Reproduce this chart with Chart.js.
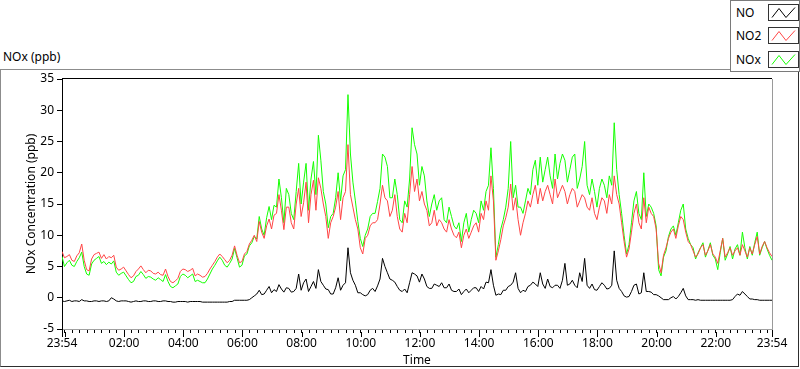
<!DOCTYPE html>
<html>
<head>
<meta charset="utf-8">
<script src="https://cdn.jsdelivr.net/npm/chart.js@4.4.1/dist/chart.umd.min.js"></script>
<style>
  html, body { margin: 0; padding: 0; background: #fff; }
  body { width: 800px; height: 369px; position: relative; overflow: hidden;
         font-family: "Noto Sans", sans-serif; font-size: 12px; color: #000; }
  #marco { position: absolute; left: 0; top: 69px; width: 797px; height: 296px;
           border-top: 1px solid #8c8c8c; border-left: 1px solid #8c8c8c;
           border-right: 1px solid #2e2e2e; border-bottom: 1px solid #2e2e2e; }
  #titulo { position: absolute; left: 3px; top: 49px; line-height: 16px; }
  #leyenda { position: absolute; left: 730px; top: 0; width: 68px; height: 70px;
             background: #fff; border: 1px solid #7a7a7a; }
  .fila { position: absolute; left: 0; width: 68px; height: 17px; }
  .fila span { position: absolute; left: 5px; top: 0; line-height: 17px; }
  .fila canvas { position: absolute; left: 37px; top: 0; border: 1px solid #333; }
  #grafico { position: absolute; left: 0; top: 0; }
</style>
</head>
<body>
<div id="marco"></div>
<div id="titulo">NOx (ppb)</div>
<canvas id="grafico" width="800" height="369"></canvas>
<div id="leyenda"></div>
<script>
// minutos desde las 23:54 del dia anterior (una muestra cada 5 minutos)
const minutos = [
  0, 5, 10, 15, 20, 25, 30, 35, 40, 45, 50, 55, 60, 65, 70, 75, 80, 85, 90, 95, 100, 105, 110, 115,
  120, 125, 130, 135, 140, 145, 150, 155, 160, 165, 170, 175, 180, 185, 190, 195, 200, 205, 210, 215, 220, 225, 230, 235,
  240, 245, 250, 255, 260, 265, 270, 275, 280, 285, 290, 295, 300, 305, 310, 315, 320, 325, 330, 335, 340, 345, 350, 355,
  360, 365, 370, 375, 380, 385, 390, 395, 400, 405, 410, 415, 420, 425, 430, 435, 440, 445, 450, 455, 460, 465, 470, 475,
  480, 485, 490, 495, 500, 505, 510, 515, 520, 525, 530, 535, 540, 545, 550, 555, 560, 565, 570, 575, 580, 585, 590, 595,
  600, 605, 610, 615, 620, 625, 630, 635, 640, 645, 650, 655, 660, 665, 670, 675, 680, 685, 690, 695, 700, 705, 710, 715,
  720, 725, 730, 735, 740, 745, 750, 755, 760, 765, 770, 775, 780, 785, 790, 795, 800, 805, 810, 815, 820, 825, 830, 835,
  840, 845, 850, 855, 860, 865, 870, 875, 880, 885, 890, 895, 900, 905, 910, 915, 920, 925, 930, 935, 940, 945, 950, 955,
  960, 965, 970, 975, 980, 985, 990, 995, 1000, 1005, 1010, 1015, 1020, 1025, 1030, 1035, 1040, 1045, 1050, 1055, 1060, 1065, 1070, 1075,
  1080, 1085, 1090, 1095, 1100, 1105, 1110, 1115, 1120, 1125, 1130, 1135, 1140, 1145, 1150, 1155, 1160, 1165, 1170, 1175, 1180, 1185, 1190, 1195,
  1200, 1205, 1210, 1215, 1220, 1225, 1230, 1235, 1240, 1245, 1250, 1255, 1260, 1265, 1270, 1275, 1280, 1285, 1290, 1295, 1300, 1305, 1310, 1315,
  1320, 1325, 1330, 1335, 1340, 1345, 1350, 1355, 1360, 1365, 1370, 1375, 1380, 1385, 1390, 1395, 1400, 1405, 1410, 1415, 1420, 1425, 1430, 1435,
  1440
];

const no = [
  -0.5, -0.6, -0.5, -0.4, -0.6, -0.5, -0.5, -0.6, -0.3, -0.5, -0.5, -0.6, -0.6, -0.5, -0.5, -0.6, -0.5, -0.5, -0.6, -0.5, 0.0, -0.2, -0.5, -0.6,
  -0.5, -0.5, -0.5, -0.6, -0.7, -0.6, -0.5, -0.6, -0.6, -0.5, -0.5, -0.6, -0.6, -0.5, -0.5, -0.6, -0.6, -0.5, -0.5, -0.6, -0.6, -0.7, -0.7, -0.6,
  -0.6, -0.6, -0.6, -0.7, -0.6, -0.6, -0.6, -0.6, -0.6, -0.7, -0.7, -0.7, -0.7, -0.7, -0.7, -0.7, -0.7, -0.7, -0.7, -0.7, -0.6, -0.6, -0.4, -0.4,
  -0.4, -0.4, -0.4, -0.4, -0.3, 0.0, 0.3, 0.6, 1.2, 0.5, 0.6, 1.2, 1.8, 0.8, 1.3, 1.0, 2.1, 1.4, 0.9, 1.6, 1.5, 0.9, 1.0, 1.5,
  3.8, 1.2, 2.4, 3.0, 1.0, 1.8, 2.6, 1.5, 4.5, 2.6, 2.0, 1.4, 1.3, 0.6, 0.6, 1.6, 3.2, 1.2, 2.0, 2.4, 8.0, 4.0, 2.8, 2.0,
  0.8, 0.8, 0.5, 0.3, 0.5, 1.2, 1.5, 1.0, 1.9, 3.0, 6.3, 5.0, 4.0, 3.0, 2.8, 2.5, 1.8, 1.2, 1.0, 1.4, 0.8, 2.4, 4.0, 3.8,
  3.5, 2.5, 3.8, 3.0, 1.8, 1.5, 1.5, 2.2, 2.0, 1.8, 2.4, 1.6, 1.6, 2.2, 1.2, 1.0, 1.0, 1.4, 0.5, 1.0, 1.4, 0.8, 1.2, 1.6,
  1.6, 1.0, 1.8, 1.4, 2.5, 2.4, 4.5, 2.0, 0.4, 0.6, 0.5, 1.2, 1.2, 1.8, 2.0, 2.5, 4.0, 1.5, 0.8, 1.2, 1.0, 1.8, 2.0, 2.5,
  2.2, 1.8, 4.0, 2.2, 1.5, 3.0, 1.8, 1.6, 2.0, 2.0, 1.5, 2.8, 5.5, 2.0, 2.2, 2.8, 2.0, 1.6, 4.0, 2.6, 6.3, 2.0, 1.5, 2.2,
  1.3, 1.2, 1.8, 2.4, 2.0, 1.4, 1.5, 2.0, 7.5, 2.8, 1.5, 1.0, 0.3, 0.1, 0.2, 1.0, 2.0, 2.2, 0.6, 0.8, 4.0, 1.0, 1.0, 0.9,
  0.5, 0.5, 0.3, 0.0, -0.3, -0.3, -0.3, 0.0, 0.2, -0.2, 0.2, 0.8, 1.5, 0.3, -0.3, -0.3, -0.3, -0.4, -0.3, -0.4, -0.4, -0.4, -0.4, -0.4,
  -0.4, -0.4, -0.4, -0.4, -0.4, -0.4, -0.4, -0.4, -0.3, 0.2, 0.6, 0.4, 1.0, 0.6, 0.2, -0.2, -0.2, -0.3, -0.3, -0.4, -0.4, -0.4, -0.4, -0.4,
  -0.4
];

const no2 = [
  7.4, 6.4, 6.6, 6.9, 6.0, 5.8, 6.7, 7.2, 8.6, 6.0, 4.5, 4.3, 6.2, 6.9, 7.1, 7.3, 6.3, 6.9, 6.2, 6.6, 6.4, 6.8, 4.9, 4.4,
  4.6, 4.9, 4.3, 3.7, 3.2, 3.5, 4.2, 4.6, 5.1, 4.5, 4.0, 4.4, 4.3, 3.9, 3.8, 4.1, 3.7, 3.6, 4.6, 3.4, 2.6, 2.4, 2.7, 3.1,
  4.2, 4.6, 4.5, 4.2, 4.4, 4.7, 3.5, 3.8, 3.6, 3.3, 3.4, 3.9, 4.6, 5.2, 5.8, 6.5, 7.0, 6.6, 6.1, 5.6, 6.0, 6.8, 8.3, 6.8,
  5.6, 5.8, 7.0, 7.4, 8.6, 9.2, 10.0, 9.0, 12.2, 10.5, 9.5, 11.5, 12.6, 11.0, 13.2, 13.5, 16.5, 14.0, 10.9, 14.5, 14.5, 12.0, 11.0, 15.0,
  17.5, 13.0, 15.2, 18.5, 12.0, 16.5, 18.8, 14.0, 19.2, 17.5, 15.0, 13.0, 9.5, 12.0, 13.0, 14.5, 17.0, 12.5, 16.0, 17.0, 24.5, 16.5, 14.5, 12.5,
  11.0, 8.0, 7.0, 9.5, 10.0, 11.5, 12.0, 12.0, 12.5, 15.0, 18.0, 16.0, 15.5, 13.0, 14.0, 16.5, 13.0, 11.0, 10.5, 13.5, 12.0, 16.5, 21.0, 17.0,
  19.0, 15.5, 17.0, 15.0, 14.0, 11.5, 12.0, 14.0, 11.5, 12.5, 12.0, 11.0, 10.5, 12.5, 11.0, 10.0, 9.6, 10.5, 8.0, 10.0, 11.0, 9.5, 10.5, 11.5,
  12.0, 10.5, 13.5, 12.5, 15.5, 14.0, 19.5, 15.5, 6.0, 7.5, 9.3, 11.5, 12.8, 14.5, 18.2, 14.0, 16.0, 12.5, 10.0, 12.0, 13.5, 15.5, 14.5, 16.5,
  18.0, 15.0, 17.5, 15.5, 17.0, 18.0, 16.5, 15.0, 19.0, 16.0, 17.0, 18.0, 17.0, 15.0, 16.5, 17.5, 17.0, 14.5, 15.5, 16.5, 16.0, 14.5, 14.0, 16.0,
  13.5, 12.5, 14.5, 16.0, 15.5, 13.5, 16.5, 15.0, 19.5, 16.5, 15.0, 12.0, 9.0, 6.5, 7.8, 10.5, 13.5, 15.0, 12.0, 11.0, 16.0, 12.0, 14.5, 13.5,
  13.0, 11.0, 5.5, 4.0, 6.8, 8.0, 9.5, 10.5, 11.0, 9.5, 11.5, 13.0, 12.5, 10.5, 9.0, 8.5, 7.5, 6.5, 7.0, 8.0, 8.5, 6.8, 7.5, 8.5,
  7.0, 6.5, 5.5, 7.5, 9.5, 6.5, 7.2, 8.0, 6.8, 7.5, 8.0, 6.8, 8.5, 7.5, 6.5, 8.0, 7.0, 8.5, 9.8, 7.0, 8.2, 9.0, 8.0, 7.2,
  6.6
];

const nox = [
  6.6, 5.0, 5.6, 6.0, 5.2, 5.0, 5.8, 6.4, 7.3, 5.0, 3.8, 3.6, 5.4, 6.0, 6.3, 6.6, 5.5, 5.8, 5.3, 5.7, 5.4, 5.9, 4.1, 3.6,
  3.9, 4.1, 3.5, 2.9, 2.4, 2.6, 3.4, 3.6, 4.2, 3.7, 3.1, 3.4, 3.3, 3.0, 2.8, 3.2, 2.9, 2.6, 3.7, 2.6, 1.8, 1.6, 1.9, 2.2,
  3.4, 3.8, 3.6, 3.2, 3.5, 3.8, 2.6, 2.8, 2.6, 2.4, 2.4, 3.0, 3.8, 4.6, 5.2, 5.9, 6.5, 6.0, 5.2, 4.9, 5.5, 6.2, 7.9, 6.4,
  4.9, 5.2, 6.7, 7.0, 8.3, 8.8, 9.8, 9.4, 13.0, 11.0, 10.0, 12.8, 14.6, 12.5, 14.8, 14.5, 19.0, 16.0, 12.0, 17.5, 16.5, 13.5, 12.5, 17.0,
  21.5, 15.0, 18.5, 21.5, 14.0, 19.0, 21.8, 16.5, 26.0, 22.0, 17.0, 15.0, 11.2, 13.0, 13.5, 16.0, 20.0, 15.5, 19.5, 20.5, 32.5, 23.0, 18.5, 15.5,
  12.2, 9.5, 8.2, 10.0, 11.0, 13.0, 13.5, 13.5, 15.4, 17.5, 23.0, 22.5, 21.0, 16.0, 16.0, 19.0, 16.5, 12.5, 12.0, 15.5, 14.5, 19.0, 27.2, 24.5,
  23.0, 18.0, 21.0, 19.5, 15.5, 13.0, 15.0, 16.5, 14.0, 15.5, 16.0, 12.5, 12.0, 14.5, 13.0, 11.5, 11.0, 12.0, 9.0, 12.0, 13.5, 10.5, 12.5, 14.0,
  13.5, 12.0, 15.5, 14.0, 17.0, 18.0, 24.0, 17.5, 6.5, 8.5, 11.0, 12.5, 14.5, 17.5, 25.0, 16.0, 18.0, 14.5, 14.5, 13.5, 15.5, 17.5, 16.5, 20.5,
  22.0, 18.0, 22.5, 18.5, 20.5, 22.5, 19.5, 17.5, 23.0, 19.0, 21.5, 23.0, 22.0, 18.5, 20.5, 22.5, 23.0, 17.5, 19.0, 21.0, 25.0, 18.0, 16.5, 19.0,
  17.0, 14.5, 17.5, 19.0, 18.0, 16.0, 19.5, 18.0, 28.0, 20.5, 16.5, 13.5, 10.0, 7.0, 8.5, 12.0, 15.5, 17.0, 13.5, 12.5, 20.0, 13.0, 15.0, 14.5,
  13.5, 11.5, 4.5, 3.5, 6.5, 7.5, 9.8, 11.0, 11.5, 10.0, 12.0, 14.0, 15.0, 11.0, 9.5, 8.5, 8.0, 6.2, 7.2, 8.0, 8.8, 6.5, 7.6, 8.8,
  6.8, 6.2, 4.5, 7.2, 9.5, 6.0, 7.0, 8.2, 6.2, 7.8, 8.5, 6.8, 10.5, 8.0, 6.2, 8.2, 6.8, 8.8, 10.5, 6.8, 8.0, 9.0, 7.8, 6.8,
  6.0
];

const ticksY = [-5, 0, 5, 10, 15, 20, 25, 30, 35];

const series = [
  { nombre: 'NO', valores: no, color: '#000000' },
  { nombre: 'NO2', valores: no2, color: '#ff4545' },
  { nombre: 'NOx', valores: nox, color: '#14ff00' }
];

// marcas del eje X: extremos 23:54 y cada 15 minutos desde las 00:00
const marcasX = [0];
for (let v = 6; v < 1440; v += 15) marcasX.push(v);
marcasX.push(1440);

const esMayor = (v) => v === 0 || v === 1440 || (v - 6) % 120 === 0;

function etiquetaHora(v) {
  if (v === 0 || v === 1440) return '23:54';
  if ((v - 6) % 120 !== 0 || v === 6) return '';
  const h = (v - 6) / 60;
  return String(h).padStart(2, '0') + ':00';
}

// leyenda
const leyenda = document.querySelector('#leyenda');
series.forEach((s, i) => {
  const fila = document.createElement('div');
  fila.className = 'fila';
  fila.style.top = [3, 26, 50][i] + 'px';
  fila.innerHTML = `<span>${s.nombre}</span>`;
  const muestra = document.createElement('canvas');
  muestra.width = 29;
  muestra.height = 15;
  const c = muestra.getContext('2d');
  c.strokeStyle = s.color;
  c.lineWidth = 1;
  c.beginPath();
  c.moveTo(3, 12.5);
  c.lineTo(10, 3.5);
  c.lineTo(17, 12.5);
  c.lineTo(26, 2.5);
  c.stroke();
  fila.appendChild(muestra);
  leyenda.appendChild(fila);
});

const marcoPlot = {
  id: 'marcoPlot',
  afterDraw(chart) {
    const { ctx, chartArea: a, scales } = chart;
    ctx.save();
    ctx.lineWidth = 1;
    ctx.strokeStyle = '#000';
    ctx.beginPath();
    ctx.moveTo(a.left, Math.round(a.top) - 0.5);
    ctx.lineTo(a.right, Math.round(a.top) - 0.5);
    ctx.stroke();
    ctx.strokeStyle = '#9a9a9a';
    ctx.beginPath();
    ctx.moveTo(Math.round(a.right) + 0.5, a.top);
    ctx.lineTo(Math.round(a.right) + 0.5, a.bottom);
    ctx.stroke();
    // marcas mayores mas largas
    ctx.strokeStyle = '#000';
    scales.x.ticks.forEach((t) => {
      if (!esMayor(t.value)) return;
      const px = Math.round(scales.x.getPixelForValue(t.value)) + 0.5;
      ctx.beginPath();
      ctx.moveTo(px, a.bottom + 3);
      ctx.lineTo(px, a.bottom + 8);
      ctx.stroke();
    });
    ctx.restore();
  }
};

Chart.defaults.font.family = '"Noto Sans", sans-serif';
Chart.defaults.font.size = 12;
Chart.defaults.color = '#000';

new Chart(document.querySelector('#grafico'), {
  type: 'line',
  data: {
    datasets: series.map((s) => ({
      label: s.nombre,
      data: minutos.map((m, i) => ({ x: m, y: s.valores[i] })),
      borderColor: s.color,
      borderWidth: 1,
      pointRadius: 0,
      tension: 0,
      fill: false
    }))
  },
  options: {
    responsive: false,
    animation: false,
    devicePixelRatio: 1,
    layout: { padding: { top: 79, right: 28, bottom: 0, left: 0 } },
    plugins: {
      legend: { display: false },
      tooltip: { enabled: false }
    },
    scales: {
      x: {
        type: 'linear',
        min: 0,
        max: 1440,
        afterBuildTicks: (escala) => {
          escala.ticks = marcasX.map((v) => ({ value: v }));
        },
        afterFit: (escala) => { escala.height = 40; },
        ticks: {
          autoSkip: false,
          maxRotation: 0,
          padding: 3,
          callback: (v) => etiquetaHora(v)
        },
        grid: { drawOnChartArea: false, tickLength: 4, tickColor: '#000' },
        border: { color: '#a0a0a0' },
        title: { display: true, text: 'Time', padding: { top: 0, bottom: 1 } }
      },
      y: {
        min: -5,
        max: 35,
        afterBuildTicks: (escala) => {
          escala.ticks = ticksY.map((v) => ({ value: v }));
        },
        afterFit: (escala) => { escala.width = 62; },
        ticks: { padding: 3 },
        grid: { drawOnChartArea: false, tickLength: 5, tickColor: '#000' },
        border: { color: '#000' },
        title: { display: true, text: 'NOx Concentration (ppb)', padding: { top: 24 } }
      }
    }
  },
  plugins: [marcoPlot]
});
</script>
</body>
</html>
